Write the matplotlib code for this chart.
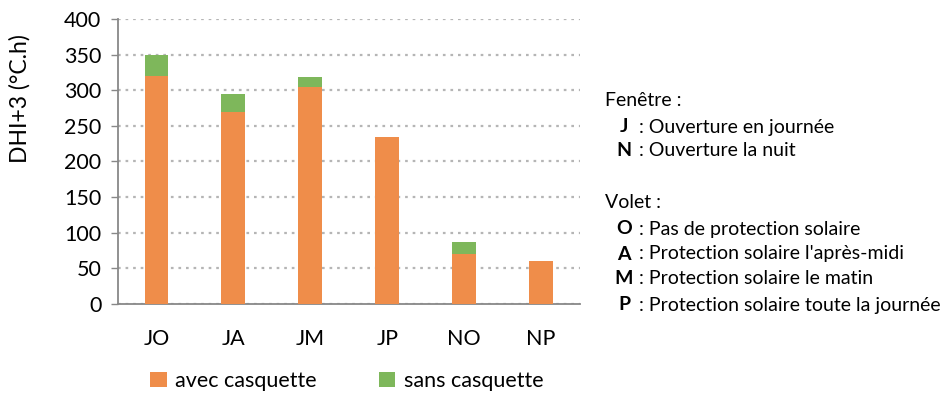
import numpy as np
import matplotlib.pyplot as plt

plt.rcParams['font.family'] = ['Lato', 'DejaVu Sans']

categories = ['JO', 'JA', 'JM', 'JP', 'NO', 'NP']
avec = [320, 270, 305, 235, 70, 60]
total = [350, 295, 319, 235, 87, 60]
sans = [t - a for t, a in zip(total, avec)]

orange = '#EF8D4A'
green = '#7EB75B'

fig = plt.figure(figsize=(9.44, 3.95), dpi=100)
ax = fig.add_axes([0.125, 0.2304, 0.489, 0.7216])

x = np.arange(len(categories))
ax.bar(x, avec, width=0.31, color=orange, label='avec casquette', zorder=3)
ax.bar(x, sans, width=0.31, bottom=avec, color=green, label='sans casquette', zorder=3)

ax.set_xlim(-0.5, len(categories) - 0.5)
ax.set_ylim(0, 400)
ax.set_yticks(range(0, 401, 50))
ax.set_xticks(x)
ax.set_xticklabels(categories)
ax.tick_params(axis='x', length=0, pad=18, labelsize=15.5)
ax.tick_params(axis='y', length=5, width=1, color='#888888', labelsize=15.5, pad=7)
ax.yaxis.grid(True, linestyle=(0, (1.2, 2.2)), color='#b5b5b5', linewidth=1.6, zorder=0)
for s in ['top', 'right']:
    ax.spines[s].set_visible(False)
for s in ['left', 'bottom']:
    ax.spines[s].set_color('#888888')
    ax.spines[s].set_linewidth(1.3)

fig.text(20 / 944, 1 - 99 / 395, 'DHI+3 (°C.h)', fontsize=16.5, rotation=90,
         ha='center', va='center')

fig.legend(loc='center', bbox_to_anchor=(347 / 944, 1 - 381 / 395), ncol=2,
           frameon=False, fontsize=15.5, handlelength=0.75, handleheight=0.75,
           columnspacing=2.9, handletextpad=0.4, borderpad=0)

# key for the category codes
fs = 14
fig.text(605 / 944, 1 - 100 / 395, 'Fenêtre :', fontsize=fs, va='center')
codes = [('J', 'Ouverture en journée', 127),
         ('N', 'Ouverture la nuit', 150),
         ('O', 'Pas de protection solaire', 229),
         ('A', "Protection solaire l'après-midi", 254),
         ('M', 'Protection solaire le matin', 279),
         ('P', 'Protection solaire toute la journée', 305)]
fig.text(605 / 944, 1 - 203 / 395, 'Volet :', fontsize=fs, va='center')
for letter, desc, yp in codes:
    fig.text(624 / 944, 1 - yp / 395, letter, fontsize=fs, fontweight='bold',
             va='center', ha='center')
    fig.text(634 / 944, 1 - yp / 395, ' : ' + desc, fontsize=fs, va='center')

fig.savefig('out.png', dpi=100)
